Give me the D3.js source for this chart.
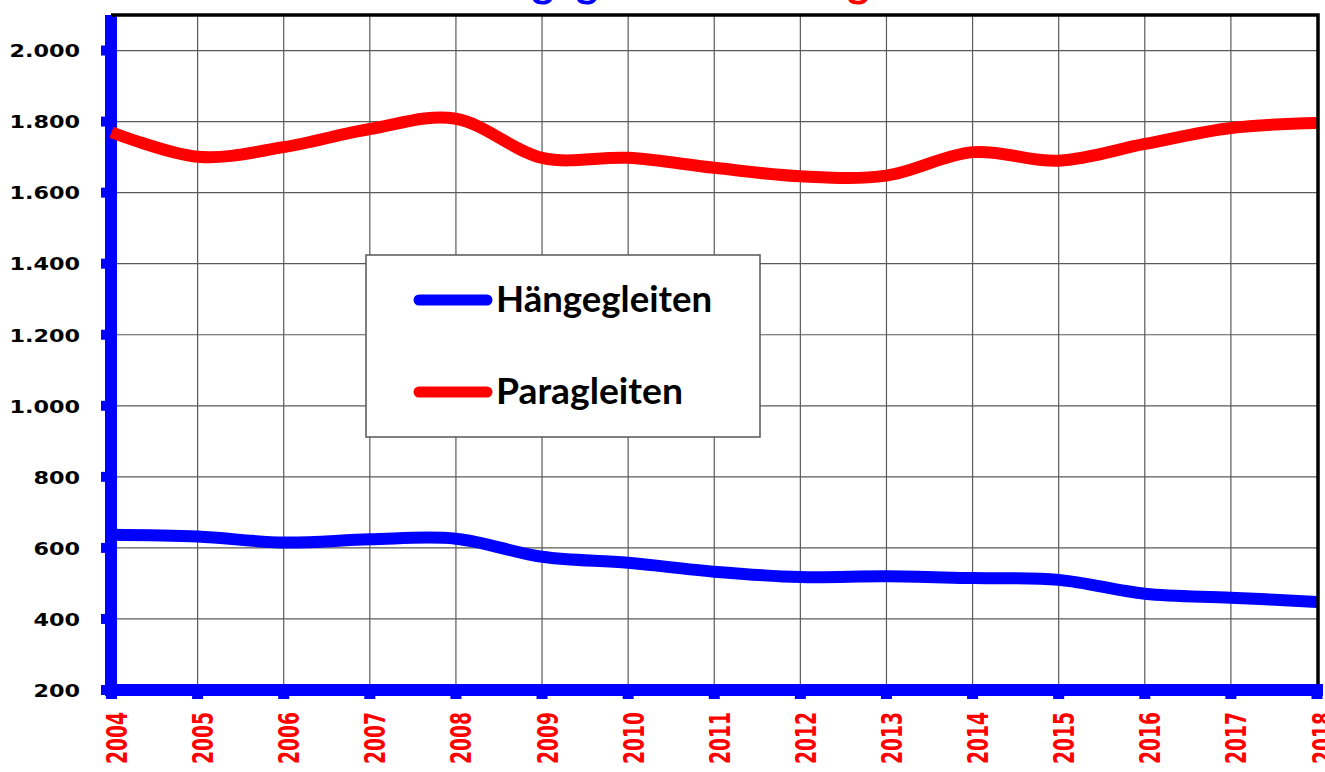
<!DOCTYPE html>
<html>
<head>
<meta charset="utf-8">
<script src="https://cdn.jsdelivr.net/npm/d3@7"></script>
<style>
  body { margin: 0; background: #fff; }
  svg { display: block; }
</style>
</head>
<body>
<svg id="grafik" width="1325" height="772"></svg>
<script>
// Daten
var jahre = [2004, 2005, 2006, 2007, 2008, 2009, 2010, 2011, 2012, 2013, 2014, 2015, 2016, 2017, 2018];
var haengegleiten = [637, 632, 615, 624, 626, 575, 558, 533, 518, 520, 515, 510, 471, 460, 448];
var paragleiten = [1770, 1701, 1728, 1779, 1808, 1698, 1698, 1670, 1646, 1648, 1714, 1690, 1737, 1782, 1796];
var yTicks = [200, 400, 600, 800, 1000, 1200, 1400, 1600, 1800, 2000];
var serien = [
    { name: "Hängegleiten", werte: haengegleiten, farbe: "#0000ff" },
    { name: "Paragleiten", werte: paragleiten, farbe: "#ff0000" }
];

var svg = d3.select("#grafik");

var x = d3.scaleLinear().domain([2004, 2018]).range([111.5, 1317]);
var y = d3.scaleLinear().domain([200, 2100]).range([690, 15]);

var deLocale = d3.formatLocale({ decimal: ",", thousands: ".", grouping: [3], currency: ["", " €"] });
var fmt = deLocale.format(",d");

// Titel (fast ganz ausserhalb des Bildes)
var titel = svg.append("text")
    .attr("y", -3)
    .style("font-family", "'Comic Sans MS', Lato, sans-serif")
    .style("font-weight", "bold")
    .style("font-size", "42px");
titel.append("tspan").attr("x", 455).attr("fill", "#0000ff").text("Hängegleiten");
titel.append("tspan").attr("x", 764).attr("fill", "#ff0000").text("Paragleiten");

// Gitternetz
svg.append("g").selectAll("line")
    .data(yTicks.slice(1))
    .enter().append("line")
    .attr("x1", x(2004)).attr("x2", x(2018))
    .attr("y1", d => y(d)).attr("y2", d => y(d))
    .attr("stroke", "#5a5a5a").attr("stroke-width", 1.2);

svg.append("g").selectAll("line")
    .data(jahre.slice(1, -1))
    .enter().append("line")
    .attr("x1", d => x(d)).attr("x2", d => x(d))
    .attr("y1", y(2100)).attr("y2", y(200))
    .attr("stroke", "#5a5a5a").attr("stroke-width", 1.2);

// blaue Achsen mit Strichen
svg.append("line")
    .attr("x1", 111).attr("x2", 111)
    .attr("y1", y(2100)).attr("y2", 696)
    .attr("stroke", "#0000ff").attr("stroke-width", 12);
svg.append("line")
    .attr("x1", 105).attr("x2", 1323)
    .attr("y1", y(200)).attr("y2", y(200))
    .attr("stroke", "#0000ff").attr("stroke-width", 12);

svg.append("g").selectAll("line")
    .data(yTicks)
    .enter().append("line")
    .attr("x1", 101).attr("x2", 111)
    .attr("y1", d => y(d)).attr("y2", d => y(d))
    .attr("stroke", "#0000ff").attr("stroke-width", 10);

svg.append("g").selectAll("line")
    .data(jahre)
    .enter().append("line")
    .attr("x1", d => x(d)).attr("x2", d => x(d))
    .attr("y1", 690).attr("y2", 699)
    .attr("stroke", "#0000ff").attr("stroke-width", 11);

// Beschriftung Y
svg.append("g").selectAll("text")
    .data(yTicks)
    .enter().append("text")
    .attr("transform", d => "translate(80," + y(d) + ") scale(1.22,1)")
    .attr("text-anchor", "end")
    .attr("dy", "0.37em")
    .style("font-family", "'DejaVu Sans', Verdana, sans-serif")
    .style("font-weight", "bold")
    .style("font-size", "18.3px")
    .attr("fill", "#000")
    .text(d => fmt(d));

// Beschriftung X (gedreht)
svg.append("g").selectAll("text")
    .data(jahre)
    .enter().append("text")
    .attr("transform", d => "translate(" + (x(d) + 15.5) + ",712) scale(1.47,1) rotate(-90)")
    .attr("text-anchor", "end")
    .style("font-family", "'DejaVu Sans', Verdana, sans-serif")
    .style("font-weight", "bold")
    .style("font-size", "18.7px")
    .attr("fill", "#ff0000")
    .text(d => d);

// Linien (geglättet)
var linie = d3.line()
    .x((d, i) => x(jahre[i]))
    .y(d => y(d))
    .curve(d3.curveCardinal.tension(0));

svg.append("g").selectAll("path")
    .data(serien)
    .enter().append("path")
    .attr("d", d => linie(d.werte))
    .attr("fill", "none")
    .attr("stroke", d => d.farbe)
    .attr("stroke-width", 12);

// schwarzer Rahmen oben und rechts
svg.append("path")
    .attr("d", "M" + 111 + "," + y(2100) + "H" + 1318 + "V" + 684)
    .attr("fill", "none")
    .attr("stroke", "#000")
    .attr("stroke-width", 3.5);

// Legende
var legende = svg.append("g").attr("transform", "translate(366,255)");
legende.append("rect")
    .attr("width", 394).attr("height", 182)
    .attr("fill", "#fff")
    .attr("stroke", "#555").attr("stroke-width", 1.5);

var breiten = [216, 187];
var eintraege = legende.selectAll("g.eintrag")
    .data(serien)
    .enter().append("g")
    .attr("class", "eintrag")
    .attr("transform", (d, i) => "translate(0," + (45 + i * 92) + ")");

eintraege.append("line")
    .attr("x1", 53).attr("x2", 121)
    .attr("stroke", d => d.farbe)
    .attr("stroke-width", 11)
    .attr("stroke-linecap", "round");

eintraege.append("text")
    .attr("x", 130)
    .attr("y", 12)
    .attr("textLength", (d, i) => breiten[i])
    .attr("lengthAdjust", "spacingAndGlyphs")
    .style("font-family", "'Comic Sans MS', Lato, sans-serif")
    .style("font-weight", "bold")
    .style("font-size", "37px")
    .attr("fill", "#000")
    .text(d => d.name);
</script>
</body>
</html>
